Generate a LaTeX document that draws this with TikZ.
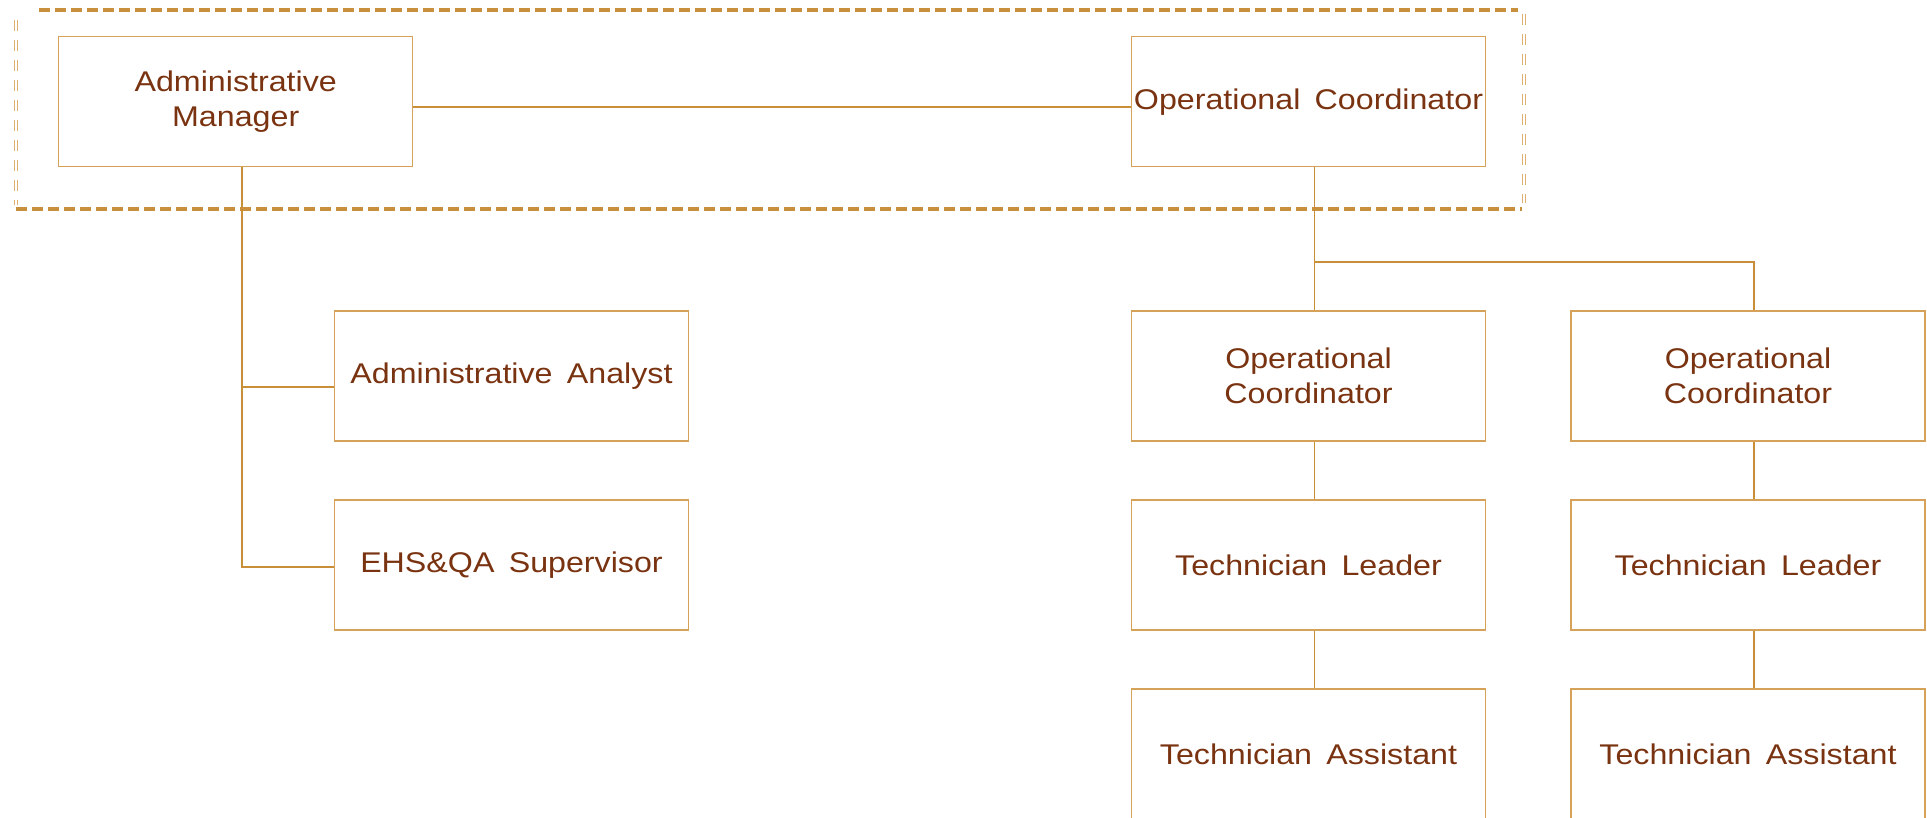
\documentclass[tikz,border=0pt]{standalone}
\usepackage{fontspec}
\setmainfont{Liberation Sans}[FakeStretch=1.13,WordSpace=1.6]
\definecolor{txtbrown}{HTML}{7A3311}
\definecolor{boxline}{HTML}{D6A25A}
\definecolor{conline}{HTML}{C98F38}
\definecolor{dashline}{HTML}{C8903C}
\definecolor{dashlight}{HTML}{DDB070}
\tikzset{
  orgbox/.style={draw=boxline, line width=1.2pt, fill=white, minimum width=354pt, minimum height=130pt,
    inner sep=0pt, align=center, text=txtbrown, font=\fontsize{28.5}{35}\selectfont},
  conn/.style={draw=conline, line width=1.8pt},
  groupedge/.style={draw=dashline, line width=3.5pt, dash pattern=on 11pt off 5pt},
  groupside/.style={draw=dashlight, line width=0.9pt, double=white, double distance=2.5pt, dash pattern=on 11pt off 9pt}
}
\begin{document}
\begin{tikzpicture}[x=1pt,y=-1pt]
\useasboundingbox (0,0) rectangle (1927,818);
\fill[white] (0,0) rectangle (1927,818);
% group frame
\draw[groupedge] (39,10) -- (1518,10);
\draw[groupedge] (16,209) -- (1522,209);
\draw[groupside] (16,20) -- (16,205);
\draw[groupside] (1524,14) -- (1524,203);
% nodes
\node[orgbox] (AM) at (235.7,101.7) {Administrative\\Manager};
\node[orgbox] (OC) at (1308.5,101.7) {Operational Coordinator};
\node[orgbox] (AA) at (511.5,376) {Administrative Analyst};
\node[orgbox] (EHS) at (511.5,565) {EHS\&QA Supervisor};
\node[orgbox] (OCL) at (1308.5,376) {Operational\\Coordinator};
\node[orgbox] (OCR) at (1748,376) {Operational\\Coordinator};
\node[orgbox] (TLL) at (1308.5,565) {Technician Leader};
\node[orgbox] (TLR) at (1748,565) {Technician Leader};
\node[orgbox] (TAL) at (1308.5,754) {Technician Assistant};
\node[orgbox] (TAR) at (1748,754) {Technician Assistant};
% connectors
\draw[conn] ([yshift=-5pt]AM.east) -- ([yshift=-5pt]OC.west);
\draw[conn] ([xshift=6pt]AM.south) |- ([yshift=-2pt]EHS.west);
\draw[conn] ([xshift=6pt,yshift=-11pt]AM.south |- AA.west) -- ([yshift=-11pt]AA.west);
\draw[conn] ([xshift=6pt]OC.south) -- ([xshift=6pt]OCL.north);
\coordinate (br) at ([xshift=6pt,yshift=-95pt]OC.south);
\draw[conn] (br) -| ([xshift=6pt]OCR.north);
\draw[conn] ([xshift=6pt]OCL.south) -- ([xshift=6pt]TLL.north);
\draw[conn] ([xshift=6pt]TLL.south) -- ([xshift=6pt]TAL.north);
\draw[conn] ([xshift=6pt]OCR.south) -- ([xshift=6pt]TLR.north);
\draw[conn] ([xshift=6pt]TLR.south) -- ([xshift=6pt]TAR.north);
\end{tikzpicture}
\end{document}
